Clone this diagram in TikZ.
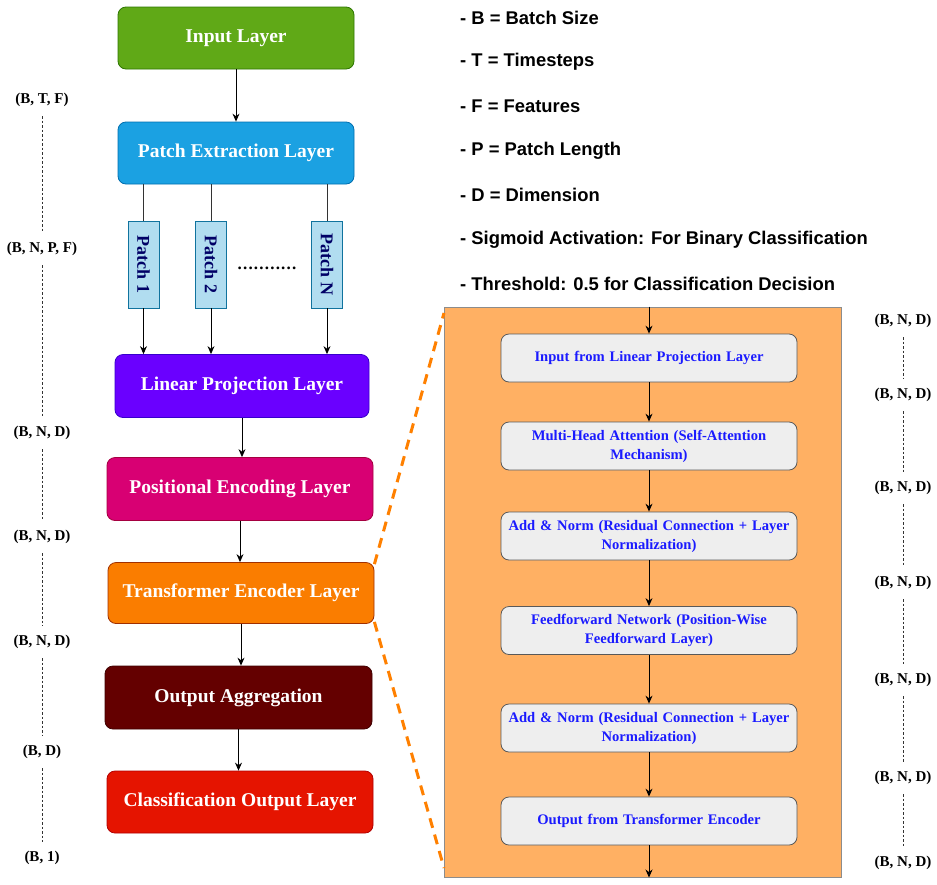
\documentclass[tikz,border=0pt]{standalone}
\usepackage{fontspec}
\setmainfont{Liberation Serif}
\newfontfamily\legendfont{Liberation Sans}
\usetikzlibrary{arrows.meta}
\definecolor{cgreen}{HTML}{60A917}\definecolor{cgreenb}{HTML}{2D7600}
\definecolor{cblue}{HTML}{1BA1E2}\definecolor{cblueb}{HTML}{006EAF}
\definecolor{cpurple}{HTML}{6A00FF}\definecolor{cpurpleb}{HTML}{3700CC}
\definecolor{cpink}{HTML}{D80073}\definecolor{cpinkb}{HTML}{A50040}
\definecolor{corange}{HTML}{FA7D00}\definecolor{corangeb}{HTML}{A03000}
\definecolor{cmaroon}{HTML}{640000}\definecolor{cmaroonb}{HTML}{3F0000}
\definecolor{cred}{HTML}{E51400}\definecolor{credb}{HTML}{B20000}
\definecolor{cpatch}{HTML}{B1DDF0}\definecolor{cpatchb}{HTML}{10739E}
\definecolor{cbig}{HTML}{FFB063}\definecolor{cdash}{HTML}{FF8000}
\definecolor{cinner}{HTML}{EEEEEE}\definecolor{ctext}{HTML}{1A1AFF}
\definecolor{cnavy}{HTML}{000066}
\tikzset{
  lbox/.style={draw, rounded corners=8pt, line width=0.8pt, text=white,
    font=\fontsize{19.5}{22}\selectfont\bfseries, inner sep=0pt},
  pbox/.style={draw=cpatchb, fill=cpatch, line width=0.8pt, rotate=-90,
    minimum width=87pt, minimum height=31pt, inner sep=0pt, text=cnavy,
    font=\fontsize{18}{20}\selectfont\bfseries},
  ibox/.style={draw=black!65, fill=cinner, rounded corners=8pt, line width=0.8pt,
    minimum width=296pt, minimum height=48pt, text width=290pt, align=center,
    inner sep=0pt, text=ctext, font=\fontsize{14.6}{19}\selectfont\bfseries},
  dim/.style={font=\fontsize{15}{16}\selectfont\bfseries, inner sep=1pt},
  leg/.style={anchor=west, inner sep=0pt, font=\legendfont\fontsize{18.4}{20}\selectfont\bfseries},
  arr/.style={-{Stealth[length=8pt,width=7pt]}, line width=0.9pt, black},
  plain/.style={line width=0.9pt, black!80},
  dotline/.style={line width=0.8pt, black!80, dash pattern=on 2.5pt off 2pt,
    shorten <=8pt, shorten >=8pt},
  odash/.style={line width=3pt, cdash, dash pattern=on 10pt off 7pt}
}
\begin{document}
\begin{tikzpicture}[x=1pt,y=-1pt]
\useasboundingbox (0,0) rectangle (937,884);
% left column
\node[lbox, fill=cgreen, draw=cgreenb, minimum width=236pt, minimum height=62pt] (in) at (236,38) {Input Layer};
\node[lbox, fill=cblue, draw=cblueb, minimum width=236pt, minimum height=62pt] (pe) at (236,153) {Patch Extraction Layer};
\node[pbox] (p1) at (143.5,264.5) {Patch 1};
\node[pbox] (p2) at (211,264.5) {Patch 2};
\node[pbox] (pn) at (327,264.5) {Patch N};
\node[inner sep=0pt, font=\fontsize{17}{20}\selectfont\bfseries] (dots) at (267,268) {.\kern1.2pt.\kern1.2pt.\kern1.2pt.\kern1.2pt.\kern1.2pt.\kern1.2pt.\kern1.2pt.\kern1.2pt.\kern1.2pt.\kern1.2pt.};
\node[lbox, fill=cpurple, draw=cpurpleb, minimum width=254pt, minimum height=63pt] (lp) at (242,386) {Linear Projection Layer};
\node[lbox, fill=cpink, draw=cpinkb, minimum width=266pt, minimum height=63pt] (pos) at (240,489) {Positional Encoding Layer};
\node[lbox, fill=corange, draw=corangeb, minimum width=266pt, minimum height=61pt] (te) at (241,593) {Transformer Encoder Layer};
\node[lbox, fill=cmaroon, draw=cmaroonb, minimum width=267pt, minimum height=63pt] (oa) at (238.5,697.5) {Output Aggregation};
\node[lbox, fill=cred, draw=credb, minimum width=266pt, minimum height=62pt] (co) at (240,802) {Classification Output Layer};
\draw[arr] (in) -- (pe);
\draw[plain] (pe.south -| p1.west) -- (p1.west);
\draw[plain] (pe.south -| p2.west) -- (p2.west);
\draw[plain] (pe.south -| pn.west) -- (pn.west);
\draw[arr] (p1.east) -- (p1.east |- lp.north);
\draw[arr] (p2.east) -- (p2.east |- lp.north);
\draw[arr] (pn.east) -- (pn.east |- lp.north);
\draw[arr] (lp) -- (lp |- pos.north);
\draw[arr] (pos) -- (pos |- te.north);
\draw[arr] (te) -- (te |- oa.north);
\draw[arr] (oa) -- (oa |- co.north);
% left dims
\node[dim] (l1) at (42,100) {(B, T, F)};
\node[dim] (l2) at (42,249) {(B, N, P, F)};
\node[dim] (l3) at (42,433) {(B, N, D)};
\node[dim] (l4) at (42,537) {(B, N, D)};
\node[dim] (l5) at (42,642) {(B, N, D)};
\node[dim] (l6) at (42,752) {(B, D)};
\node[dim] (l7) at (42,858) {(B, 1)};
\foreach \a/\b in {l1/l2,l2/l3,l3/l4,l4/l5,l5/l6,l6/l7} \draw[dotline] (\a) -- (\b);
% legend
\node[leg] (g1) at (460,18) {- B = Batch Size};
\node[leg] (g2) at (460,62) {- T = Timesteps};
\node[leg] (g3) at (460,106) {- F = Features};
\node[leg] (g4) at (460,151) {- P = Patch Length};
\node[leg] (g5) at (460,195) {- D = Dimension};
\node[leg] (g6) at (460,240) {- Sigmoid Activation: For Binary Classification};
\node[leg] (g7) at (460,284) {- Threshold: 0.5 for Classification Decision};
% encoder detail
\node[draw=black!45, fill=cbig, line width=1pt, minimum width=397pt, minimum height=570pt, inner sep=0pt] (enc) at (643,592) {};
\coordinate (d1) at (444,313);
\coordinate (d2) at (444,868);
\draw[odash] (te.north east) ++(0,2) -- (d1);
\draw[odash] (te.south east) ++(0,-2) -- (d2);
\node[ibox] (i1) at (649,358) {Input from Linear Projection Layer};
\node[ibox] (i2) at (649,446) {Multi-Head Attention (Self-Attention\\Mechanism)};
\node[ibox] (i3) at (649,536) {Add \& Norm (Residual Connection + Layer\\Normalization)};
\node[ibox] (i4) at (649,630.5) {Feedforward Network (Position-Wise\\Feedforward Layer)};
\node[ibox] (i5) at (649,728) {Add \& Norm (Residual Connection + Layer\\Normalization)};
\node[ibox] (i6) at (649,821) {Output from Transformer Encoder};
\draw[arr] (enc.north -| i1) -- (i1);
\draw[arr] (i1) -- (i2);
\draw[arr] (i2) -- (i3);
\draw[arr] (i3) -- (i4);
\draw[arr] (i4) -- (i5);
\draw[arr] (i5) -- (i6);
\draw[arr] (i6) -- (i6 |- enc.south);
% right dims
\node[dim] (r1) at (903,321) {(B, N, D)};
\node[dim] (r2) at (903,395) {(B, N, D)};
\node[dim] (r3) at (903,488) {(B, N, D)};
\node[dim] (r4) at (903,583) {(B, N, D)};
\node[dim] (r5) at (903,680) {(B, N, D)};
\node[dim] (r6) at (903,778) {(B, N, D)};
\node[dim] (r7) at (903,863) {(B, N, D)};
\foreach \a/\b in {r1/r2,r2/r3,r3/r4,r4/r5,r5/r6,r6/r7} \draw[dotline] (\a) -- (\b);
\end{tikzpicture}
\end{document}
